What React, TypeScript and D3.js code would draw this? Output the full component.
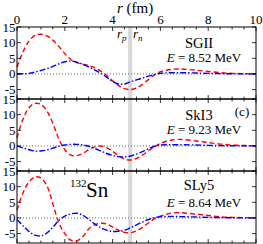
import React from "react";
import * as d3 from "d3";

const rGrid = [0,0.25,0.5,0.75,1,1.25,1.5,1.75,2,2.25,2.5,2.75,3,3.25,3.5,3.75,4,4.25,4.5,4.75,5,5.25,5.5,5.75,6,6.25,6.5,6.75,7,7.5,8,8.5,9,9.5,10];

const sgiiRed = [2.2,7,10.5,12.3,12.7,12.2,10.8,8.8,6.5,4.6,3.6,3.1,2.7,2.0,0.9,-0.5,-2.2,-3.7,-4.7,-5.0,-4.5,-3.3,-1.8,-0.3,0.7,1.2,1.5,1.6,1.5,1.2,0.8,0.4,0.2,0.1,0.05];
const sgiiBlue = [0,0.05,0.2,0.6,1.1,1.7,2.4,3.2,3.9,4.1,3.8,3.1,2.3,1.3,0.2,-1.0,-2.4,-3.2,-3.2,-2.5,-1.9,-1.3,-0.7,-0.2,0.2,0.35,0.4,0.4,0.4,0.3,0.2,0.1,0.05,0.02,0];

const ski3Red = [2.6,8.5,12.2,13.6,13.3,11.2,7.2,2.2,-1.2,-2.9,-3.1,-2.4,-1.2,-0.3,0.0,-0.5,-1.7,-3.1,-4.2,-4.5,-4.0,-2.9,-1.5,-0.3,0.8,1.5,1.9,2.1,2.0,1.6,1.1,0.6,0.3,0.15,0.05];
const ski3Blue = [0,-0.6,-1.2,-1.6,-1.6,-1.3,-0.7,-0.1,0.3,0.5,0.5,0.3,-0.1,-0.8,-1.6,-2.4,-3.0,-3.4,-3.5,-3.2,-2.6,-1.8,-0.9,-0.1,0.3,0.4,0.4,0.4,0.4,0.3,0.2,0.1,0.05,0.02,0];

const sly5Red = [2.5,8.0,11.5,13.1,12.8,10.3,4.5,-1.5,-5.0,-7.1,-7.3,-6.0,-3.5,-2.2,-1.7,-1.9,-2.9,-3.9,-4.6,-4.7,-4.1,-3.0,-1.6,-0.3,0.6,1.2,1.6,1.7,1.6,1.2,0.8,0.4,0.2,0.1,0.05];
const sly5Blue = [-0.5,-2.5,-4.3,-5.5,-5.7,-4.8,-3.0,-0.8,0.6,1.3,1.5,0.9,-0.4,-1.9,-3.1,-3.9,-4.3,-4.3,-3.9,-3.1,-2.2,-1.3,-0.5,0.1,0.4,0.45,0.5,0.45,0.4,0.3,0.2,0.1,0.05,0.02,0];

const xTicks = [0,2,4,6,8,10];
const yTicks = [-5,0,5,10,15];
const rp = 4.65;
const rn = 4.82;

const panels = [
  { name: "SGII", energy: "8.52", red: sgiiRed, blue: sgiiBlue },
  { name: "SkI3", energy: "9.23", red: ski3Red, blue: ski3Blue },
  { name: "SLy5", energy: "8.64", red: sly5Red, blue: sly5Blue },
];

const L = 17, R = 256, TOP = 27, PH = 72;
const font = "'Liberation Serif', 'DejaVu Serif', serif";

export default function App() {
  const x = d3.scaleLinear().domain([0, 10]).range([L, R]);
  const minor = d3.range(0, 10.001, 0.5);
  return (
    <svg width={263} height={244} style={{ position: "absolute", left: 0, top: 0 }} fontFamily={font}>
      <rect x={0} y={0} width={263} height={244} fill="#fff" />
      <rect x={x(rp)} y={TOP} width={x(rn) - x(rp)} height={PH * 3} fill="#d8d8d8" />
      <text x={135} y={13} fontSize={15} textAnchor="middle"><tspan fontStyle="italic">r</tspan> (fm)</text>
      {xTicks.map((t) => (
        <text key={t} x={x(t)} y={24} fontSize={13} textAnchor="middle">{t}</text>
      ))}
      <text x={117} y={38} fontSize={13} fontStyle="italic">r<tspan fontSize={9} dy={3}>p</tspan></text>
      <text x={133} y={38} fontSize={13} fontStyle="italic">r<tspan fontSize={9} dy={3}>n</tspan></text>
      {panels.map((p, i) => {
        const top = TOP + i * PH;
        const y = d3.scaleLinear().domain([-8, 15]).range([top + PH, top]);
        const line = d3.line<number>().x((_, j) => x(rGrid[j])).y((d) => y(d)).curve(d3.curveCatmullRom);
        return (
          <g key={p.name}>
            <line x1={L} x2={R} y1={y(0)} y2={y(0)} stroke="#444" strokeWidth={0.8} strokeDasharray="1,2" />
            <path d={line(p.red) || ""} fill="none" stroke="#ff0000" strokeWidth={1.4} strokeDasharray="5,3" />
            <path d={line(p.blue) || ""} fill="none" stroke="#0000ff" strokeWidth={1.4} strokeDasharray="6,2,1.5,2" />
            <rect x={L} y={top} width={R - L} height={PH} fill="none" stroke="#000" strokeWidth={1} />
            {minor.map((t) => {
              const major = Math.abs(t / 2 - Math.round(t / 2)) < 1e-6;
              const len = major ? 4 : 2.5;
              return (
                <g key={t}>
                  <line x1={x(t)} x2={x(t)} y1={top} y2={top + len} stroke="#000" strokeWidth={0.8} />
                  <line x1={x(t)} x2={x(t)} y1={top + PH} y2={top + PH - len} stroke="#000" strokeWidth={0.8} />
                </g>
              );
            })}
            {yTicks.map((t) => (
              <g key={t}>
                <line x1={L} x2={L + 4} y1={y(t)} y2={y(t)} stroke="#000" strokeWidth={0.8} />
                <line x1={R} x2={R - 4} y1={y(t)} y2={y(t)} stroke="#000" strokeWidth={0.8} />
                <text x={15.5} y={y(t) + 4.5} fontSize={13} textAnchor="end">{t}</text>
              </g>
            ))}
            <text x={199} y={top + (i === 2 ? 19 : 21)} fontSize={14.5} textAnchor="middle">{p.name}</text>
            <text x={204} y={top + (i === 2 ? 36 : 34.5)} fontSize={13} textAnchor="middle"><tspan fontStyle="italic">E</tspan> = {p.energy} MeV</text>
          </g>
        );
      })}
      <text x={242} y={116} fontSize={13} textAnchor="middle">(c)</text>
      <text x={70} y={187} fontSize={11}>132</text>
      <text x={86} y={196.5} fontSize={21}>Sn</text>
    </svg>
  );
}
